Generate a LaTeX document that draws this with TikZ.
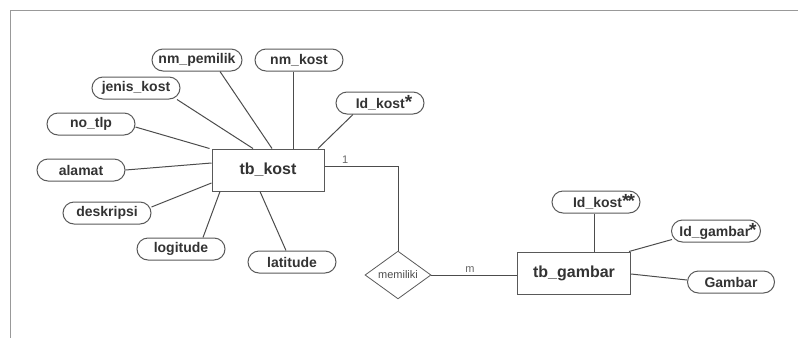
\documentclass[tikz,border=0pt]{standalone}
\usepackage{fontspec}
\setmainfont{Liberation Sans}
\usetikzlibrary{shapes.geometric}
\newcommand{\bintang}{{\fontsize{19}{19}\selectfont*}}
\begin{document}
\begin{tikzpicture}[x=1pt, y=-1pt,
                   entitas/.style={draw=black!65, line width=1pt, fill=white, minimum width=112pt, minimum height=42pt, inner sep=0pt, font=\fontsize{16}{16}\selectfont\bfseries, text=black!80},
                   atribut/.style={draw=black!65, line width=1pt, rounded corners=11pt, minimum width=88pt, minimum height=22pt, inner sep=0pt, font=\fontsize{14}{14}\selectfont\bfseries, text=black!80},
                   relasi/.style={draw=black!65, line width=0.8pt, diamond, minimum width=66pt, minimum height=36pt, inner sep=0pt, font=\fontsize{11}{11}\selectfont, text=black!70},
                   garis/.style={draw=black!70, line width=1pt},
                   kardinal/.style={font=\fontsize{11}{11}\selectfont, text=black!60, inner sep=2pt}]
  \useasboundingbox (0,0) rectangle (798,338);
  \draw[black!40, line width=0.8pt] (798,10) -- (10,10) -- (10,338);

  \node[entitas] (kost) at (268,170) {tb\_kost};
  \node[entitas, minimum width=113pt] (gambar) at (574,273) {tb\_gambar};
  \node[relasi] (memiliki) at (398,275) {memiliki};

  \node[atribut, minimum width=90pt] (nmpemilik) at (197,60) {nm\_pemilik};
  \node[atribut] (nmkost) at (299,60) {nm\_kost};
  \node[atribut] (jeniskost) at (136,88) {jenis\_kost};
  \node[atribut] (idkost) at (380,103) {\hspace*{8pt}Id\_kost\bintang};
  \node[atribut] (notlp) at (91,124) {no\_tlp};
  \node[atribut] (alamat) at (81,170) {alamat};
  \node[atribut] (deskripsi) at (107,213) {deskripsi};
  \node[atribut] (logitude) at (181,249) {logitude};
  \node[atribut] (latitude) at (292,262) {latitude};
  \node[atribut] (idkostg) at (596,202) {\hspace*{16pt}Id\_kost\bintang\kern-2pt\bintang};
  \node[atribut, minimum width=89pt] (idgambar) at (716,231) {\hspace*{4pt}Id\_gambar\kern-1pt\bintang};
  \node[atribut, minimum width=87pt] (fgambar) at (731,282) {Gambar};

  \draw[garis] ([xshift=23pt]nmpemilik.south) -- ([xshift=4pt]kost.north);
  \draw[garis] ([xshift=-6pt]nmkost.south) -- ([xshift=25pt]kost.north);
  \draw[garis] ([xshift=41pt]jeniskost.south) -- ([xshift=-15pt]kost.north);
  \draw[garis] ([yshift=-3pt]notlp.east) -- ([xshift=-2pt]kost.north west);
  \draw[garis] ([xshift=-27pt]idkost.south) -- ([xshift=50pt]kost.north);
  \draw[garis] (alamat.east) -- ([yshift=7pt]kost.west);
  \draw[garis] ([yshift=6pt]deskripsi.east) -- ([yshift=-13pt]kost.west);
  \draw[garis] ([xshift=22pt]logitude.north) -- ([xshift=-48pt]kost.south);
  \draw[garis] ([xshift=-6pt]latitude.north) -- ([xshift=-8pt]kost.south);

  \draw[garis] ([yshift=4pt]kost.east) -| (memiliki.north) node[kardinal, pos=0.14, above] {1};
  \draw[garis] (memiliki.east) -- (memiliki.east -| gambar.west) node[kardinal, pos=0.45, above] {m};

  \draw[garis] ([xshift=-2pt]idkostg.south) -- ([xshift=-2pt]idkostg.south |- gambar.north);
  \draw[garis] ([xshift=1pt, yshift=3pt]idgambar.south west) -- ([xshift=-2pt]gambar.north east);
  \draw[garis] ([yshift=-1pt]gambar.east) -- ([yshift=2pt]fgambar.west);
\end{tikzpicture}
\end{document}
